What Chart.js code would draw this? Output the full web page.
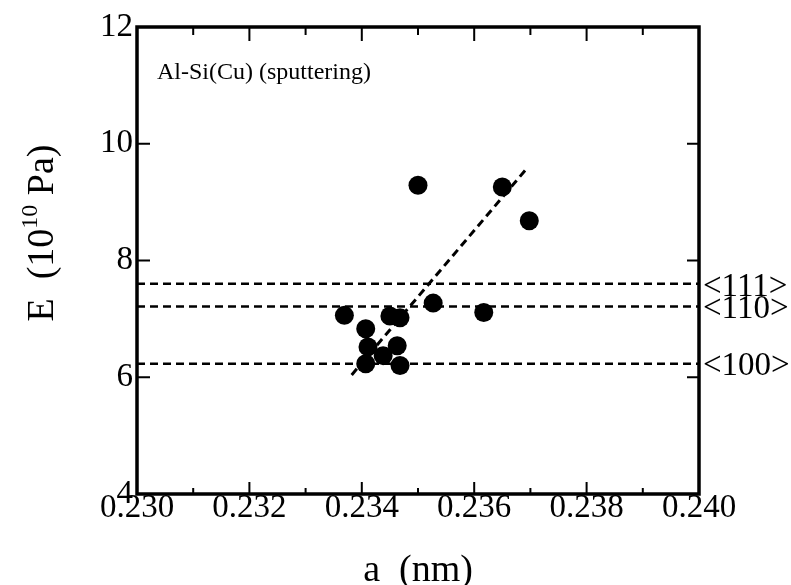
<!DOCTYPE html>
<html><head><meta charset="utf-8">
<script src="https://cdn.jsdelivr.net/npm/chart.js@4.4.0/dist/chart.umd.min.js"></script>
<style>html,body{margin:0;padding:0;background:#fff;} #wrap{width:791px;height:585px;}</style>
</head><body><div id="wrap"><canvas id="c" width="791" height="585"></canvas></div>
<script>
// ---- data ----
const aValues = [0.23500, 0.23650, 0.23698, 0.23527, 0.23617, 0.23369, 0.23450, 0.23468, 0.23407, 0.23411, 0.23463, 0.23407, 0.23468, 0.23438];
const eValues = [9.29, 9.26, 8.68, 7.27, 7.11, 7.06, 7.05, 7.02, 6.83, 6.52, 6.54, 6.23, 6.20, 6.37];
const fitA = [0.23382, 0.23693];
const fitE = [6.04, 9.57];
const refLabels = ['<111>', '<110>', '<100>'];
const refE = [7.60, 7.21, 6.23];
const xRange = [0.230, 0.240];
const yRange = [4, 12];
const xMajorTicks = [0.230, 0.232, 0.234, 0.236, 0.238, 0.240];
const xMinorTicks = [0.231, 0.233, 0.235, 0.237, 0.239];
const yMajorTicks = [4, 6, 8, 10, 12];
const xTitle = 'a  (nm)';
const yTitleParts = ['E  (10', '10', ' Pa)'];
const annotation = 'Al-Si(Cu) (sputtering)';

const SERIF = '"Liberation Serif", "Times New Roman", serif';
Chart.defaults.font.family = SERIF;
Chart.defaults.color = '#000';

const datasets = [];
datasets.push({
  label: 'data',
  data: aValues.map((a, i) => ({x: a, y: eValues[i]})),
  pointRadius: 9.5, pointHoverRadius: 9.5,
  backgroundColor: '#000', borderWidth: 0, showLine: false
});
datasets.push({
  label: 'fit',
  data: fitA.map((a, i) => ({x: a, y: fitE[i]})),
  showLine: true, pointRadius: 0, borderColor: '#000', borderWidth: 3,
  borderDash: [8, 5], fill: false
});
refE.forEach((v, i) => {
  datasets.push({
    label: refLabels[i],
    data: [{x: xRange[0], y: v}, {x: xRange[1], y: v}],
    showLine: true, pointRadius: 0, borderColor: '#000', borderWidth: 2.5,
    borderDash: [8, 5], fill: false
  });
});

const decor = {
  id: 'decor',
  afterDraw(chart) {
    const {ctx, chartArea: a, scales: {x, y}} = chart;
    ctx.save();
    ctx.strokeStyle = '#000';
    ctx.fillStyle = '#000';
    // inward ticks
    ctx.lineWidth = 2;
    ctx.beginPath();
    yMajorTicks.forEach(v => {
      if (v === yRange[0] || v === yRange[1]) return;
      const py = y.getPixelForValue(v);
      ctx.moveTo(a.left, py); ctx.lineTo(a.left + 13, py);
      ctx.moveTo(a.right, py); ctx.lineTo(a.right - 12, py);
    });
    xMajorTicks.forEach(v => {
      if (v === xRange[0] || v === xRange[1]) return;
      const px = x.getPixelForValue(v);
      ctx.moveTo(px, a.bottom); ctx.lineTo(px, a.bottom - 12);
      ctx.moveTo(px, a.top); ctx.lineTo(px, a.top + 14);
    });
    xMinorTicks.forEach(v => {
      const px = x.getPixelForValue(v);
      ctx.moveTo(px, a.bottom); ctx.lineTo(px, a.bottom - 6);
      ctx.moveTo(px, a.top); ctx.lineTo(px, a.top + 8);
    });
    ctx.stroke();
    // frame
    ctx.lineWidth = 3.5;
    ctx.strokeRect(a.left, a.top, a.right - a.left, a.bottom - a.top);
    // annotation
    ctx.font = '24px ' + SERIF;
    ctx.textBaseline = 'middle';
    ctx.textAlign = 'left';
    ctx.fillText(annotation, a.left + 20, a.top + 46);
    // reference labels
    ctx.font = '33px ' + SERIF;
    refLabels.forEach((t, i) => {
      ctx.fillText(t, a.right + 4, y.getPixelForValue(refE[i]) + 3);
    });
    // y title with superscript
    ctx.translate(40, 233);
    ctx.rotate(-Math.PI / 2);
    ctx.textBaseline = 'alphabetic';
    ctx.font = '38px ' + SERIF;
    const w1 = ctx.measureText(yTitleParts[0]).width;
    const w3 = ctx.measureText(yTitleParts[2]).width;
    ctx.font = '24px ' + SERIF;
    const w2 = ctx.measureText(yTitleParts[1]).width;
    const W = w1 + w2 + w3;
    let sx = -W / 2;
    const base = 13;
    ctx.font = '38px ' + SERIF;
    ctx.fillText(yTitleParts[0], sx, base);
    ctx.font = '24px ' + SERIF;
    ctx.fillText(yTitleParts[1], sx + w1, base - 16);
    ctx.font = '38px ' + SERIF;
    ctx.fillText(yTitleParts[2], sx + w1 + w2, base);
    ctx.restore();
  }
};

new Chart(document.getElementById('c'), {
  type: 'scatter',
  data: {datasets},
  options: {
    responsive: false,
    animation: false,
    events: [],
    layout: {padding: {top: 27, right: 92, left: 0, bottom: 0}},
    plugins: {legend: {display: false}, tooltip: {enabled: false}},
    scales: {
      x: {
        type: 'linear', min: xRange[0], max: xRange[1],
        grid: {display: false, drawTicks: false},
        border: {display: false},
        afterBuildTicks: s => { s.ticks = xMajorTicks.map(v => ({value: v})); },
        afterFit: s => { s.height = 91; },
        ticks: {
          autoSkip: false, maxRotation: 0, minRotation: 0, padding: -2,
          font: {size: 33, lineHeight: 1},
          callback: v => Number(v).toFixed(3)
        },
        title: {display: true, text: xTitle, font: {size: 38, lineHeight: 0.74}, padding: 0}
      },
      y: {
        type: 'linear', min: yRange[0], max: yRange[1],
        grid: {display: false, drawTicks: false},
        border: {display: false},
        afterBuildTicks: s => { s.ticks = yMajorTicks.map(v => ({value: v})); },
        afterFit: s => { s.width = 137; },
        ticks: {autoSkip: false, padding: 4, font: {size: 33, lineHeight: 1}, callback: v => String(v)}
      }
    }
  },
  plugins: [decor]
});
</script>
</body></html>
